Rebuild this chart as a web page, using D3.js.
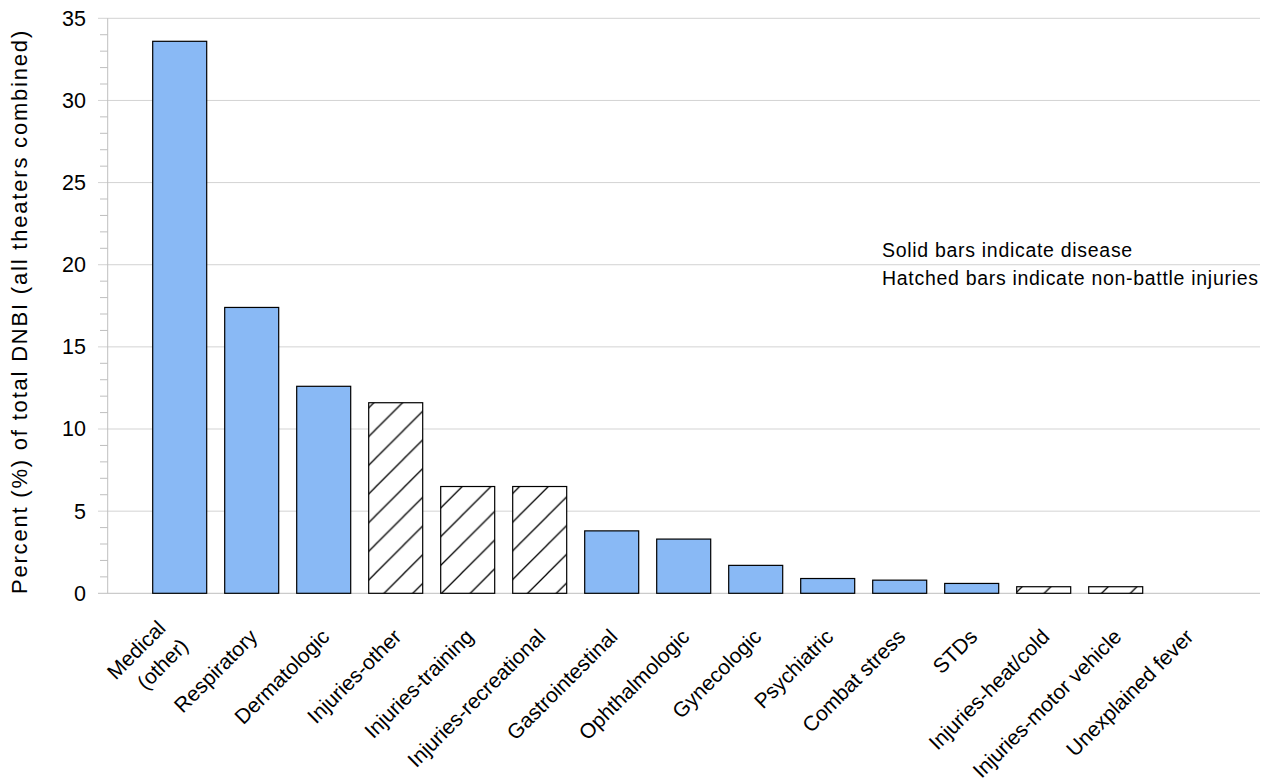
<!DOCTYPE html>
<html>
<head>
<meta charset="utf-8">
<script src="https://cdn.jsdelivr.net/npm/d3@7"></script>
<style>
html, body { margin: 0; padding: 0; background: #ffffff; }
svg { display: block; font-family: "Liberation Sans", Arial, Helvetica, sans-serif; }
</style>
</head>
<body>
<svg id="chart" width="1268" height="783"></svg>
<script>
// ---------------- data ----------------
const categories = [
  "Medical\n(other)", "Respiratory", "Dermatologic", "Injuries-other",
  "Injuries-training", "Injuries-recreational", "Gastrointestinal",
  "Ophthalmologic", "Gynecologic", "Psychiatric", "Combat stress", "STDs",
  "Injuries-heat/cold", "Injuries-motor vehicle", "Unexplained fever"
];
const values = [33.6, 17.4, 12.6, 11.6, 6.5, 6.5, 3.8, 3.3, 1.7, 0.9, 0.8, 0.6, 0.4, 0.4, 0];
const barTypes = [
  "disease", "disease", "disease", "injury", "injury", "injury", "disease",
  "disease", "disease", "disease", "disease", "disease", "injury", "injury", "disease"
];
const yTicks = [0, 5, 10, 15, 20, 25, 30, 35];
const yMinorStep = 1;
const legendLines = ["Solid bars indicate disease", "Hatched bars indicate non-battle injuries"];
const yTitle = "Percent (%) of total DNBI (all theaters combined)";

// ---------------- layout ----------------
const svg = d3.select("#chart");
const plotLeft = 107.7, plotRight = 1259.7, plotTop = 18.3, plotBottom = 593.3;
const barWidth = 54;
const gridColor = "#d3d3d3";
const axisColor = "#bfbfbf";
const diseaseFill = "#89b9f5";

const y = d3.scaleLinear().domain([0, 35]).range([plotBottom, plotTop]);
const x = d3.scalePoint().domain(categories).range([plotLeft, plotRight]).padding(1);

// hatch pattern
const defs = svg.append("defs");
const p = 28.7;
const pat = defs.append("pattern")
  .attr("id", "hatch")
  .attr("patternUnits", "userSpaceOnUse")
  .attr("x", 1.6).attr("y", 0)
  .attr("width", p).attr("height", p);
pat.append("rect").attr("width", p).attr("height", p).attr("fill", "#ffffff");
pat.append("path")
  .attr("d", `M0,${p} L${p},0 M${-p/4},${p/4} L${p/4},${-p/4} M${3*p/4},${5*p/4} L${5*p/4},${3*p/4}`)
  .attr("stroke", "#000").attr("stroke-width", 1.3).attr("fill", "none");

// gridlines (major)
svg.append("g").selectAll("line")
  .data(yTicks)
  .join("line")
  .attr("x1", 98).attr("x2", 1260)
  .attr("y1", d => y(d)).attr("y2", d => y(d))
  .attr("stroke", d => d === 0 ? axisColor : gridColor)
  .attr("stroke-width", 1);

// minor ticks
const minor = d3.range(0, 35 + 0.001, yMinorStep).filter(v => v % 5 !== 0);
svg.append("g").selectAll("line")
  .data(minor)
  .join("line")
  .attr("x1", 100).attr("x2", plotLeft)
  .attr("y1", d => y(d)).attr("y2", d => y(d))
  .attr("stroke", axisColor).attr("stroke-width", 1);

// left axis line
svg.append("line")
  .attr("x1", plotLeft).attr("x2", plotLeft)
  .attr("y1", y(0)).attr("y2", y(35))
  .attr("stroke", axisColor).attr("stroke-width", 1);

// y tick labels via d3 axis
const yAxis = d3.axisLeft(y).tickValues(yTicks).tickSize(0).tickPadding(0).tickFormat(d3.format("d"));
const yAxisG = svg.append("g").attr("transform", "translate(86,0)").call(yAxis);
yAxisG.select(".domain").remove();
yAxisG.selectAll("text")
  .attr("font-size", 21.5)
  .attr("fill", "#000")
  .attr("font-family", "\"Liberation Sans\", Arial, sans-serif");

// bars
const data = categories.map((c, i) => ({ c, v: values[i], t: barTypes[i] }));
svg.append("g").selectAll("rect")
  .data(data.filter(d => d.v > 0))
  .join("rect")
  .attr("x", d => x(d.c) - barWidth / 2)
  .attr("y", d => y(d.v))
  .attr("width", barWidth)
  .attr("height", d => y(0) - y(d.v))
  .attr("fill", d => d.t === "disease" ? diseaseFill : "url(#hatch)")
  .attr("stroke", "#000")
  .attr("stroke-width", 1.2);

// category labels
const labG = svg.append("g")
  .attr("font-size", 21)
  .attr("fill", "#000");
data.forEach(d => {
  const lines = d.c.split("\n");
  const t = labG.append("text")
    .attr("text-anchor", "end")
    .attr("transform", `translate(${x(d.c) + 7},638) rotate(-45)`);
  lines.forEach((ln, i) => {
    const multi = lines.length > 1;
    t.append("tspan")
      .attr("x", multi ? -8 + i * 3.5 : 0)
      .attr("y", multi ? -20 + i * 28.5 : 0)
      .text(ln);
  });
});

// legend notes
svg.append("g").selectAll("text")
  .data(legendLines)
  .join("text")
  .attr("x", 882)
  .attr("y", (d, i) => 257.3 + i * 27.4)
  .attr("font-size", 19.5)
  .attr("letter-spacing", 0.7)
  .attr("fill", "#000")
  .text(d => d);

// y title
svg.append("text")
  .attr("transform", "translate(27,311.5) rotate(-90)")
  .attr("text-anchor", "middle")
  .attr("font-size", 22)
  .attr("letter-spacing", 1.8)
  .attr("fill", "#000")
  .text(yTitle);
</script>
</body>
</html>
